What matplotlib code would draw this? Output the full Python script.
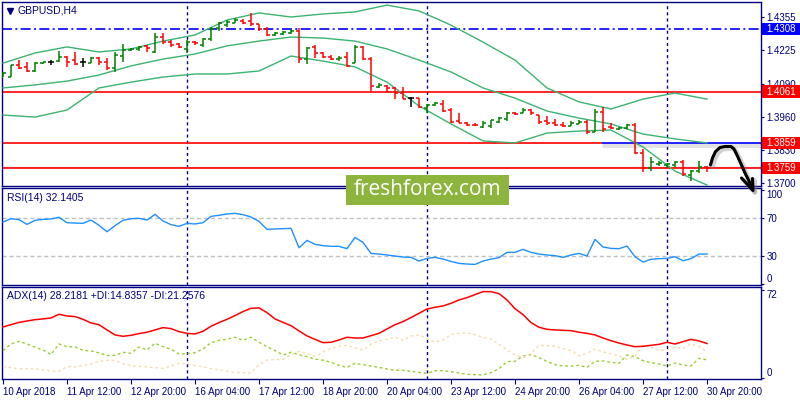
import matplotlib
matplotlib.use('Agg')
import matplotlib.pyplot as plt
from matplotlib.patches import Rectangle
from matplotlib.transforms import blended_transform_factory

plt.rcParams['font.family'] = ['Liberation Sans', 'DejaVu Sans']

# ---------------- data ----------------
symbol = 'GBPUSD,H4'
rsi_label = 'RSI(14) 32.1405'
adx_label = 'ADX(14) 28.2181 +DI:14.8357 -DI:21.2576'

opens = [1.4117, 1.4120, 1.4166, 1.4159, 1.4143, 1.4172, 1.4176, 1.4181, 1.4196, 1.4185,
         1.4176, 1.4175, 1.4192, 1.4179, 1.4152, 1.4200, 1.4224, 1.4227, 1.4241, 1.4218,
         1.4277, 1.4258, 1.4248, 1.4227, 1.4258, 1.4244, 1.4267, 1.4310, 1.4324, 1.4333,
         1.4341, 1.4341, 1.4327, 1.4306, 1.4284, 1.4288, 1.4293, 1.4301, 1.4188, 1.4235,
         1.4212, 1.4199, 1.4188, 1.4196, 1.4172, 1.4238, 1.4188, 1.4080, 1.4083, 1.4073,
         1.4054, 1.4034, 1.4034, 1.3995, 1.4008, 1.4012, 1.3988, 1.3944, 1.3938, 1.3930,
         1.3922, 1.3925, 1.3942, 1.3951, 1.3975, 1.3977, 1.3988, 1.3968, 1.3945, 1.3935,
         1.3930, 1.3925, 1.3934, 1.3942, 1.3903, 1.3980, 1.3920, 1.3912, 1.3916, 1.3928,
         1.3820, 1.3760, 1.3775, 1.3770, 1.3772, 1.3783, 1.3730, 1.3748, 1.3765]
highs = [1.4139, 1.4166, 1.4185, 1.4179, 1.4179, 1.4179, 1.4185, 1.4222, 1.4201, 1.4216,
         1.4192, 1.4196, 1.4196, 1.4192, 1.4218, 1.4249, 1.4231, 1.4242, 1.4244, 1.4291,
         1.4291, 1.4264, 1.4254, 1.4264, 1.4262, 1.4271, 1.4317, 1.4337, 1.4343, 1.4350,
         1.4346, 1.4372, 1.4327, 1.4317, 1.4297, 1.4301, 1.4306, 1.4310, 1.4238, 1.4245,
         1.4218, 1.4205, 1.4201, 1.4218, 1.4245, 1.4240, 1.4196, 1.4093, 1.4087, 1.4077,
         1.4078, 1.4041, 1.4034, 1.4012, 1.4021, 1.4028, 1.3995, 1.3975, 1.3942, 1.3938,
         1.3946, 1.3949, 1.3962, 1.3981, 1.3981, 1.3994, 1.3991, 1.3970, 1.3964, 1.3953,
         1.3941, 1.3945, 1.3949, 1.3949, 1.3992, 1.4000, 1.3937, 1.3919, 1.3933, 1.3937,
         1.3834, 1.3803, 1.3787, 1.3779, 1.3787, 1.3791, 1.3752, 1.3787, 1.3767]
lows = [1.4117, 1.4120, 1.4150, 1.4139, 1.4139, 1.4170, 1.4166, 1.4179, 1.4159, 1.4166,
        1.4156, 1.4172, 1.4166, 1.4146, 1.4139, 1.4179, 1.4222, 1.4222, 1.4218, 1.4214,
        1.4248, 1.4238, 1.4231, 1.4212, 1.4244, 1.4238, 1.4262, 1.4301, 1.4317, 1.4330,
        1.4327, 1.4320, 1.4301, 1.4280, 1.4280, 1.4284, 1.4288, 1.4172, 1.4168, 1.4192,
        1.4192, 1.4185, 1.4183, 1.4156, 1.4172, 1.4185, 1.4064, 1.4073, 1.4060, 1.4030,
        1.4030, 1.4001, 1.3995, 1.3975, 1.4004, 1.3981, 1.3938, 1.3935, 1.3925, 1.3925,
        1.3916, 1.3916, 1.3935, 1.3946, 1.3968, 1.3975, 1.3968, 1.3932, 1.3929, 1.3925,
        1.3921, 1.3925, 1.3933, 1.3893, 1.3901, 1.3901, 1.3913, 1.3909, 1.3913, 1.3814,
        1.3743, 1.3747, 1.3767, 1.3759, 1.3763, 1.3728, 1.3708, 1.3739, 1.3743]
closes = [1.4135, 1.4166, 1.4155, 1.4142, 1.4175, 1.4179, 1.4176, 1.4199, 1.4179, 1.4170,
          1.4176, 1.4192, 1.4179, 1.4152, 1.4205, 1.4225, 1.4229, 1.4238, 1.4231, 1.4275,
          1.4258, 1.4245, 1.4238, 1.4258, 1.4251, 1.4267, 1.4306, 1.4330, 1.4337, 1.4343,
          1.4333, 1.4327, 1.4306, 1.4284, 1.4293, 1.4295, 1.4301, 1.4188, 1.4234, 1.4212,
          1.4199, 1.4188, 1.4195, 1.4162, 1.4238, 1.4188, 1.4083, 1.4087, 1.4073, 1.4054,
          1.4033, 1.4034, 1.3999, 1.4008, 1.4015, 1.3985, 1.3942, 1.3938, 1.3930, 1.3928,
          1.3938, 1.3949, 1.3955, 1.3975, 1.3972, 1.3988, 1.3975, 1.3940, 1.3935, 1.3930,
          1.3925, 1.3935, 1.3942, 1.3903, 1.3980, 1.3915, 1.3917, 1.3916, 1.3928, 1.3820,
          1.3760, 1.3783, 1.3780, 1.3775, 1.3783, 1.3735, 1.3748, 1.3765, 1.3759]

bb_bars = [0, 4, 8, 12, 16, 20, 24, 28, 32, 36, 40, 44, 48, 52, 56, 60, 64, 68, 72, 76, 80, 84, 88]
bb_upper = [1.4173, 1.4213, 1.4237, 1.4217, 1.4229, 1.4260, 1.4284, 1.4343, 1.4371, 1.4355, 1.4367, 1.4375,
            1.4402, 1.4379, 1.4323, 1.4256, 1.4185, 1.4075, 1.4020, 1.3992, 1.4031, 1.4055, 1.4031]
bb_middle = [1.4075, 1.4087, 1.4102, 1.4126, 1.4162, 1.4189, 1.4209, 1.4241, 1.4260, 1.4276, 1.4272, 1.4260,
             1.4229, 1.4185, 1.4138, 1.4075, 1.4035, 1.3984, 1.3956, 1.3933, 1.3893, 1.3874, 1.3858]
bb_lower = [1.3968, 1.3960, 1.3988, 1.4075, 1.4098, 1.4118, 1.4130, 1.4130, 1.4142, 1.4201, 1.4181, 1.4158,
            1.4098, 1.4004, 1.3933, 1.3866, 1.3858, 1.3897, 1.3905, 1.3909, 1.3842, 1.3747, 1.3692]

rsi = [66.1, 69.6, 68.6, 63.6, 67.9, 68.9, 69.3, 71.1, 65.4, 65.0,
       64.7, 68.2, 62.6, 55.8, 62.2, 67.9, 69.6, 70.0, 68.2, 74.2,
       67.2, 63.3, 61.5, 64.7, 64.0, 65.4, 72.1, 73.2, 74.6, 75.3,
       73.9, 71.4, 66.8, 58.3, 58.7, 59.0, 59.4, 38.8, 46.6, 42.4,
       41.0, 40.3, 40.3, 37.8, 49.8, 44.5, 32.8, 32.1, 31.1, 30.0,
       28.9, 28.6, 24.7, 27.5, 28.6, 26.8, 24.3, 22.2, 21.5, 21.1,
       24.7, 26.8, 28.2, 33.9, 33.9, 37.1, 33.9, 32.1, 31.1, 30.4,
       28.6, 31.1, 32.8, 30.0, 47.7, 39.6, 38.1, 37.8, 40.6, 29.3,
       23.6, 26.5, 27.2, 27.5, 29.3, 25.0, 27.2, 32.1, 32.14]
adx = [41.7, 43.6, 45.5, 46.6, 47.7, 48.3, 49.1, 52.1, 50.7, 50.2,
       48.0, 45.0, 43.6, 39.3, 35.2, 34.1, 34.9, 36.3, 37.4, 39.3,
       41.2, 40.4, 37.9, 36.5, 36.0, 38.2, 42.3, 45.3, 48.0, 51.0,
       54.3, 57.0, 57.3, 53.5, 48.3, 45.5, 42.8, 38.5, 34.4, 31.6,
       28.9, 29.2, 31.1, 33.3, 32.7, 32.7, 34.6, 36.5, 40.1, 43.6,
       46.1, 49.4, 52.9, 56.4, 57.8, 58.9, 61.1, 63.8, 65.7, 68.2,
       70.6, 70.6, 69.0, 63.8, 56.7, 51.8, 45.3, 41.5, 39.8, 39.3,
       39.0, 38.7, 37.4, 36.5, 35.2, 32.7, 30.5, 28.6, 27.0, 25.6,
       25.9, 26.7, 27.5, 29.2, 27.8, 29.7, 31.6, 30.3, 28.22]
plus_di = [22.4, 27.8, 30.0, 27.8, 25.1, 22.9, 19.1, 27.8, 25.6, 25.4,
           22.6, 22.1, 20.5, 18.3, 18.5, 21.0, 20.2, 25.4, 22.9, 28.4,
           25.6, 23.5, 19.6, 19.9, 20.7, 23.7, 28.9, 30.8, 31.6, 33.3,
           30.8, 33.3, 29.2, 25.6, 22.4, 18.8, 21.0, 19.1, 17.5, 15.5,
           14.5, 12.8, 10.4, 8.7, 12.0, 10.9, 9.8, 8.7, 7.4, 6.3,
           6.3, 5.5, 4.6, 3.8, 6.0, 6.0, 5.2, 4.1, 3.0, 2.7,
           2.5, 4.4, 7.6, 13.4, 13.6, 18.0, 19.1, 16.6, 13.6, 10.9,
           9.8, 9.8, 10.4, 8.7, 13.6, 13.9, 12.8, 12.0, 18.8, 17.5,
           14.2, 12.5, 11.5, 9.8, 12.3, 10.6, 9.8, 16.1, 14.84]
minus_di = [9.5, 8.5, 7.6, 7.4, 7.6, 6.5, 5.7, 5.5, 9.3, 9.0,
            10.1, 11.5, 13.6, 14.5, 14.2, 11.7, 10.1, 9.5, 9.0, 8.5,
            7.9, 9.8, 12.0, 11.7, 10.1, 9.3, 7.6, 6.8, 5.5, 4.4,
            4.4, 4.1, 10.9, 14.7, 15.0, 15.3, 18.8, 21.8, 19.9, 17.7,
            21.3, 24.3, 25.9, 26.7, 24.5, 22.9, 27.8, 30.3, 31.6, 33.5,
            30.8, 34.4, 35.2, 32.2, 29.2, 31.1, 35.5, 36.5, 36.8, 35.5,
            33.0, 31.9, 27.5, 22.9, 18.8, 16.9, 20.2, 26.7, 26.5, 25.9,
            24.0, 22.4, 18.0, 20.2, 23.7, 21.3, 19.9, 18.0, 15.3, 17.7,
            27.3, 25.1, 22.6, 22.9, 25.4, 24.3, 27.8, 25.9, 21.26]

xtick_bars = [0, 8, 16, 24, 32, 40, 48, 56, 64, 72, 80, 88]
xtick_labels = ['10 Apr 2018', '11 Apr 12:00', '12 Apr 20:00', '16 Apr 04:00', '17 Apr 12:00',
                '18 Apr 20:00', '20 Apr 04:00', '23 Apr 12:00', '24 Apr 20:00', '26 Apr 04:00',
                '27 Apr 12:00', '30 Apr 20:00']
separator_bars = [23, 53, 83]
price_ticks = [1.4355, 1.4225, 1.4090, 1.3960, 1.3830, 1.3700]
rsi_ticks = [100, 70, 30, 0]
rsi_levels = [70, 30]
adx_ticks = [72, 0]

level_blue = 1.4308
level_red = [1.4061, 1.3859, 1.3759]
split_bar = 74.9   # where the 1.3859 line turns blue
watermark = 'freshforex.com'

# ---------------- style ----------------
NAVY = '#000080'
UP, DOWN, DOJI = '#008000', '#FF0000', '#000000'
BB = '#3CB371'

fig = plt.figure(figsize=(8, 4), dpi=100)
fig.patch.set_facecolor('white')


def px_axes(left, top, right, bottom):
    return fig.add_axes([left / 800, 1 - bottom / 400, (right - left) / 800, (bottom - top) / 400])


ax = px_axes(2, 2, 761, 186)
ax_rsi = px_axes(2, 188, 761, 285)
ax_adx = px_axes(2, 287, 761, 379)

XMIN, XMAX = -0.125, 94.75
for a in (ax, ax_rsi, ax_adx):
    a.set_xlim(XMIN, XMAX)
    for s in a.spines.values():
        s.set_color(NAVY)
        s.set_linewidth(1.0)
    a.yaxis.tick_right()
    a.tick_params(axis='both', colors=NAVY, labelcolor=NAVY, labelsize=7, length=2.5, width=0.8, pad=1.5)
    a.set_xticks([])
    for b in separator_bars:
        a.axvline(b, color=NAVY, lw=1.0, ls=(0, (2.2, 2.2)), zorder=1)

# ---- main price panel ----
n = len(closes)
xs = list(range(n))
cols = [UP if c > o else (DOWN if c < o else DOJI) for o, c in zip(opens, closes)]
ax.vlines(xs, lows, highs, colors=cols, lw=1.1, zorder=4)
ax.hlines(opens, [i - 0.38 for i in xs], xs, colors=cols, lw=1.1, zorder=4)
ax.hlines(closes, xs, [i + 0.38 for i in xs], colors=cols, lw=1.1, zorder=4)

for band in (bb_upper, bb_middle, bb_lower):
    ax.plot(bb_bars, band, color=BB, lw=1.0, zorder=3)

ax.set_ylim(1.36881, 1.44142)
ax.set_yticks(price_ticks, [f'{v:.4f}' for v in price_ticks])

ax.axhline(level_blue, color='#0000FF', lw=1.2, ls=(0, (6, 2, 1.2, 2)), zorder=2)
ax.axhline(level_red[0], color='#FF0000', lw=1.2, zorder=2)
ax.hlines(level_red[1], XMIN, split_bar, color='#FF0000', lw=1.2, zorder=2)
ax.hlines(level_red[1] - 0.0009, split_bar, XMAX, color='#909090', lw=3.5, alpha=0.25, zorder=1)
ax.hlines(level_red[1], split_bar, XMAX, color='#0000FF', lw=1.2, zorder=2)
ax.axhline(level_red[2] + 0.0005, color='#C8C8C8', lw=1.0, zorder=1)
ax.axhline(level_red[2], color='#FF0000', lw=1.2, zorder=2)

tr = blended_transform_factory(ax.transAxes, ax.transData)
box_h = 0.00474
box_x0, box_w = 1.0013, 0.0500
for val, colr in [(level_blue, '#0000FF')] + [(v, '#FF0000') for v in level_red]:
    ax.add_patch(Rectangle((box_x0, val - box_h / 2), box_w, box_h, transform=tr,
                           facecolor=colr, edgecolor='none', clip_on=False, zorder=6))
    ax.text(box_x0 + box_w / 2, val, f'{val:.4f}', transform=tr, ha='center', va='center',
            color='white', fontsize=7, clip_on=False, zorder=7)

# ---- RSI panel ----
ax_rsi.plot(xs, rsi, color='#1E90FF', lw=1.0, zorder=3)
for lv in rsi_levels:
    ax_rsi.axhline(lv, color='#C0C0C0', lw=1.0, ls=(0, (3, 2)), zorder=1)
ax_rsi.set_ylim(-0.74, 102.2)
ax_rsi.set_yticks(rsi_ticks, [str(v) for v in rsi_ticks])
rt = ax_rsi.yaxis.get_major_ticks()
rt[0].label2.set_va('top')
rt[-1].label2.set_va('bottom')

# ---- ADX panel ----
ax_adx.plot(xs, adx, color='#FF0000', lw=1.1, zorder=4)
ax_adx.plot(xs, plus_di, color='#9ACD32', lw=1.0, ls=(0, (2, 2)), zorder=3)
ax_adx.plot(xs, minus_di, color='#F5DEB3', lw=1.0, ls=(0, (2, 2)), zorder=3)
ax_adx.set_ylim(-0.82, 74.4)
ax_adx.set_yticks(adx_ticks, [str(v) for v in adx_ticks])
at = ax_adx.yaxis.get_major_ticks()
at[0].label2.set_va('top')
at[-1].label2.set_va('bottom')
ax_adx.set_xticks(xtick_bars, xtick_labels)
ax_adx.tick_params(axis='x', length=3.5, pad=2.5)
for lab in ax_adx.get_xticklabels():
    lab.set_ha('left')

# ---- overlay (texts, watermark, drawn arrow) ----
ov = fig.add_axes([0, 0, 1, 1], zorder=20)
ov.set_xlim(0, 800)
ov.set_ylim(400, 0)
ov.axis('off')
ov.patch.set_alpha(0)
ov.plot([10], [10.5], marker='v', ms=5, color=NAVY, mec=NAVY)
ov.text(17, 10.5, symbol, fontsize=7.5, color=NAVY, va='center', ha='left')
ov.text(7, 198, rsi_label, fontsize=7.5, color=NAVY, va='center', ha='left')
ov.text(7, 296, adx_label, fontsize=7.5, color=NAVY, va='center', ha='left')

ov.add_patch(Rectangle((346, 175), 163, 30, facecolor='#8DB43C', edgecolor='none'))
ov.text(427.5, 189.5, watermark, fontsize=15, color='white', ha='center', va='center',
        family=['Open Sans', 'DejaVu Sans'])

arrow_x = [710.5, 712.5, 715.5, 720, 725, 731, 734, 737, 741, 745, 749, 752.5]
arrow_y = [165, 158, 151.5, 147.5, 146.5, 146.5, 149, 155, 164, 173, 181, 189.5]
head_x = [741.5, 753, 752.5]
head_y = [178, 190.5, 178.5]
ov.plot([v + 2 for v in arrow_x], [v + 2 for v in arrow_y], color='#808080', lw=3.5, alpha=0.35,
        solid_capstyle='round')
ov.plot([v + 2 for v in head_x], [v + 2 for v in head_y], color='#808080', lw=3.5, alpha=0.35,
        solid_capstyle='round')
ov.plot(arrow_x, arrow_y, color='black', lw=2.2, solid_capstyle='round', solid_joinstyle='round')
ov.plot(head_x, head_y, color='black', lw=2.2, solid_capstyle='round', solid_joinstyle='round')

fig.savefig('out.png', dpi=100, facecolor='white')
